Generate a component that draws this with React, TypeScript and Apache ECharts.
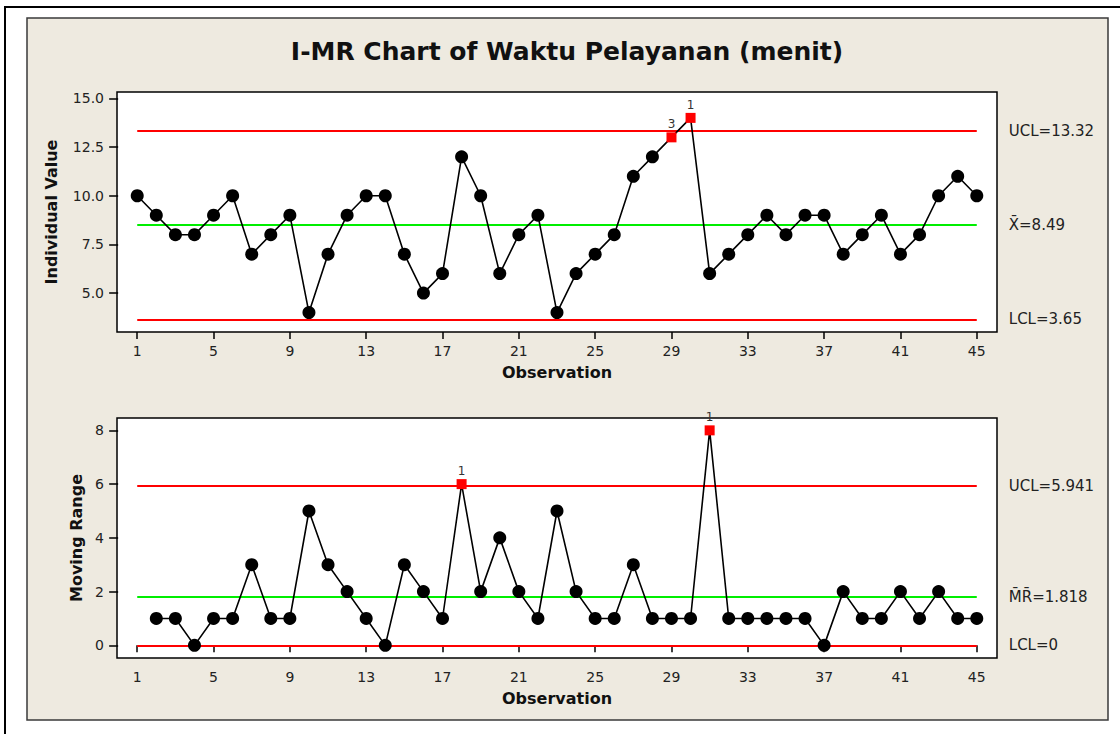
import React, { useEffect, useRef } from "react";
import * as echarts from "echarts";

const observations = [
  1, 2, 3, 4, 5, 6, 7, 8, 9, 10, 11, 12, 13, 14, 15, 16, 17, 18, 19, 20, 21, 22, 23,
  24, 25, 26, 27, 28, 29, 30, 31, 32, 33, 34, 35, 36, 37, 38, 39, 40, 41, 42, 43, 44, 45,
];
const individualValues = [
  10, 9, 8, 8, 9, 10, 7, 8, 9, 4, 7, 9, 10, 10, 7, 5, 6, 12, 10, 6, 8, 9, 4,
  6, 7, 8, 11, 12, 13, 14, 6, 7, 8, 9, 8, 9, 9, 7, 8, 9, 7, 8, 10, 11, 10,
];
const movingRanges = [
  null, 1, 1, 0, 1, 1, 3, 1, 1, 5, 3, 2, 1, 0, 3, 2, 1, 6, 2, 4, 2, 1, 5,
  2, 1, 1, 3, 1, 1, 1, 8, 1, 1, 1, 1, 1, 0, 2, 1, 1, 2, 1, 2, 1, 1,
];
const xTickValues = [1, 5, 9, 13, 17, 21, 25, 29, 33, 37, 41, 45];
const iTickValues = [5, 7.5, 10, 12.5, 15];
const mrTickValues = [0, 2, 4, 6, 8];

const iLimitNames = ["UCL=13.32", "X\u0304=8.49", "LCL=3.65"];
const iLimitValues = [13.32, 8.49, 3.65];
const mrLimitNames = ["UCL=5.941", "M\u0304R\u0304=1.818", "LCL=0"];
const mrLimitValues = [5.941, 1.818, 0];
const limitColors = ["#ff0000", "#00ee00", "#ff0000"];

const iFlagObs = [29, 30];
const iFlagText = ["3", "1"];
const mrFlagObs = [18, 31];
const mrFlagText = ["1", "1"];

const TITLE = "I-MR Chart of Waktu Pelayanan (menit)";
const FONT = "'DejaVu Sans', 'Liberation Sans', sans-serif";

function buildPoints(values: (number | null)[], flagObs: number[], flagText: string[]) {
  const out: any[] = [];
  observations.forEach((o, i) => {
    const v = values[i];
    if (v === null || v === undefined) return;
    const fi = flagObs.indexOf(o);
    if (fi >= 0) {
      out.push({
        value: [o, v],
        symbol: "rect",
        symbolSize: 10,
        itemStyle: { color: "#ff0000" },
        label: {
          show: true,
          position: "top",
          distance: 2,
          formatter: flagText[fi],
          fontSize: 12,
          color: "#333",
          fontFamily: FONT,
        },
      });
    } else {
      out.push([o, v]);
    }
  });
  return out;
}

function buildLimitLines(names: string[], values: number[]) {
  return names.map((n, i) => [
    { name: n, coord: [observations[0], values[i]], lineStyle: { color: limitColors[i], width: 2, type: "solid" } },
    { name: n, coord: [observations[observations.length - 1], values[i]] },
  ]);
}

function xAxisFor(gridIndex: number) {
  return {
    type: "value",
    gridIndex,
    min: -0.06,
    max: 46.06,
    axisLine: { show: false },
    splitLine: { show: false },
    axisTick: { show: true, customValues: xTickValues, length: 7, lineStyle: { color: "#000", width: 1.5 } },
    axisLabel: { customValues: xTickValues, margin: 12, fontSize: 14, color: "#222", fontFamily: FONT },
    name: "Observation",
    nameLocation: "middle",
    nameGap: 32,
    nameTextStyle: { fontWeight: "bold", fontSize: 16, color: "#111", fontFamily: FONT },
  };
}

export default function App() {
  const ref = useRef<HTMLDivElement>(null);
  useEffect(() => {
    if (!ref.current) return;
    const chart = echarts.init(ref.current, null, { renderer: "svg" });
    const markLineCommon = {
      silent: true,
      symbol: "none",
      z: 1,
      animation: false,
      label: {
        show: true,
        position: "end",
        distance: 32,
        formatter: "{b}",
        color: "#222",
        fontSize: 15,
        fontFamily: FONT,
      },
    };
    chart.setOption({
      animation: false,
      backgroundColor: "#ffffff",
      graphic: [
        {
          type: "rect",
          z: -20,
          shape: { x: 5, y: 7, width: 1140, height: 760 },
          style: { fill: "#ffffff", stroke: "#000000", lineWidth: 2 },
        },
        {
          type: "rect",
          z: -10,
          shape: { x: 27, y: 18, width: 1081, height: 702 },
          style: { fill: "#eeeae0", stroke: "#3a3a3a", lineWidth: 1.5 },
        },
        {
          type: "text",
          z: 10,
          x: 567,
          y: 51,
          style: {
            text: TITLE,
            align: "center",
            verticalAlign: "middle",
            fontSize: 25,
            fontWeight: "bold",
            fontFamily: FONT,
            fill: "#111",
          },
        },
      ],
      grid: [
        { left: 117, top: 92, width: 880, height: 240, show: true, backgroundColor: "#fff", borderColor: "#000", borderWidth: 1.5 },
        { left: 117, top: 418, width: 880, height: 240, show: true, backgroundColor: "#fff", borderColor: "#000", borderWidth: 1.5 },
      ],
      xAxis: [xAxisFor(0), xAxisFor(1)],
      yAxis: [
        {
          type: "value",
          gridIndex: 0,
          min: 3.0,
          max: 15.33,
          axisLine: { show: false },
          splitLine: { show: false },
          axisTick: { show: true, customValues: iTickValues, length: 9, lineStyle: { color: "#000", width: 1.5 } },
          axisLabel: {
            customValues: iTickValues,
            margin: 13,
            fontSize: 14,
            color: "#222",
            fontFamily: FONT,
            formatter: (v: number) => v.toFixed(1),
          },
          name: "Individual Value",
          nameLocation: "middle",
          nameGap: 58,
          nameTextStyle: { fontWeight: "bold", fontSize: 16, color: "#111", fontFamily: FONT },
        },
        {
          type: "value",
          gridIndex: 1,
          min: -0.47,
          max: 8.46,
          axisLine: { show: false },
          splitLine: { show: false },
          axisTick: { show: true, customValues: mrTickValues, length: 9, lineStyle: { color: "#000", width: 1.5 } },
          axisLabel: { customValues: mrTickValues, margin: 13, fontSize: 14, color: "#222", fontFamily: FONT },
          name: "Moving Range",
          nameLocation: "middle",
          nameGap: 32,
          nameTextStyle: { fontWeight: "bold", fontSize: 16, color: "#111", fontFamily: FONT },
        },
      ],
      series: [
        {
          type: "line",
          name: "Individual Value",
          xAxisIndex: 0,
          yAxisIndex: 0,
          z: 3,
          data: buildPoints(individualValues, iFlagObs, iFlagText),
          symbol: "circle",
          symbolSize: 13,
          showAllSymbol: true,
          itemStyle: { color: "#000" },
          lineStyle: { color: "#000", width: 1.6 },
          markLine: { ...markLineCommon, data: buildLimitLines(iLimitNames, iLimitValues) },
        },
        {
          type: "line",
          name: "Moving Range",
          xAxisIndex: 1,
          yAxisIndex: 1,
          z: 3,
          data: buildPoints(movingRanges, mrFlagObs, mrFlagText),
          symbol: "circle",
          symbolSize: 13,
          showAllSymbol: true,
          itemStyle: { color: "#000" },
          lineStyle: { color: "#000", width: 1.6 },
          markLine: { ...markLineCommon, data: buildLimitLines(mrLimitNames, mrLimitValues) },
        },
      ],
    });
    return () => chart.dispose();
  }, []);
  return (
    <div
      ref={ref}
      style={{ position: "fixed", left: 0, top: 0, width: 1120, height: 734 }}
    />
  );
}
